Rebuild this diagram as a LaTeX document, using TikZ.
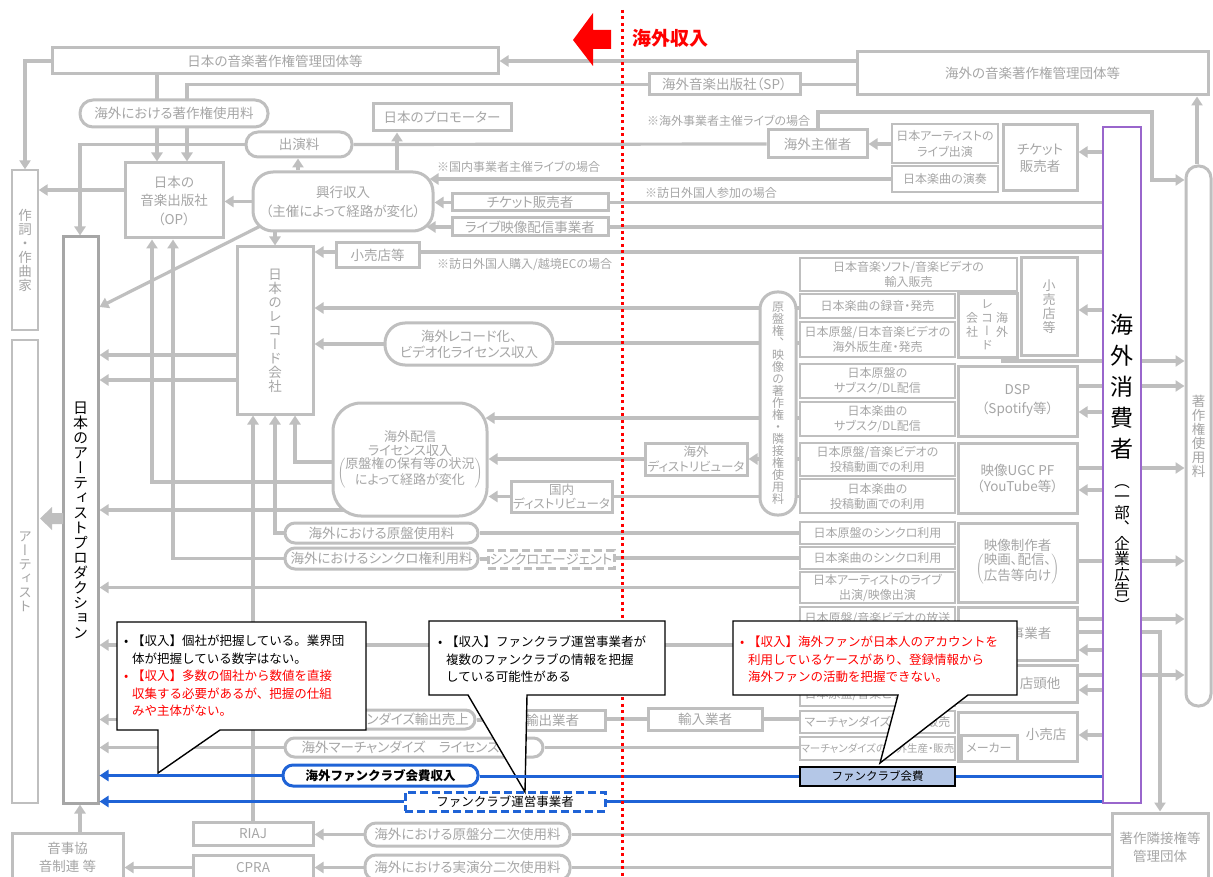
\documentclass[tikz,border=0pt]{standalone}
\usepackage{fontspec}
\setmainfont{Noto Sans CJK JP}[RawFeature=+palt]
\newfontfamily\fullfont{Noto Sans CJK JP}
\newfontfamily\tatefont{Noto Sans CJK JP}[RawFeature=+vert]
\usetikzlibrary{arrows.meta,backgrounds,calc}
\definecolor{LineG}{HTML}{BFBFBF}
\definecolor{TextG}{HTML}{A6A6A6}
\definecolor{ProdG}{HTML}{A6A6A6}
\definecolor{FanBlue}{HTML}{1F63D6}
\definecolor{ConsPurple}{HTML}{9966CC}
\definecolor{FeeBlue}{HTML}{B4C7E7}
\newcommand\labfont{\fontsize{13.5}{17}\selectfont}
\newcommand\smfont{\fontsize{12}{15}\selectfont}
\newcommand\notefont{\fullfont\fontsize{12.5}{17.5}\selectfont}
\newcommand\tatesize[2]{\tatefont\fontsize{#1}{#2}\selectfont\lineskiplimit=-100pt\relax}
% vertical text: one character per line
\makeatletter
\newcommand\tate[1]{\tate@a#1\@nil}
\def\tate@a#1{#1\tate@b}
\def\tate@b#1{\ifx\@nil#1\else\\#1\expandafter\tate@b\fi}
\makeatother
\tikzset{
  spans/.style n args={4}{at={($(#1,#2)!0.5!(#3,#4)$)}, minimum width={#3pt-#1pt}, minimum height={#4pt-#2pt}},
  gbox/.style={draw=LineG, line width=3pt, fill=white, text=TextG, inner sep=0pt, align=center, font=\labfont},
  tbox/.style={gbox, line width=1.3pt, font=\smfont},
  pill/.style={gbox, rounded corners=#1},
  tlab/.style={inner sep=0pt, align=center},
  lbl/.style={text=TextG, font=\smfont, inner sep=0pt, anchor=west},
  gline/.style={draw=LineG, line width=3.2pt},
  garrow/.style={gline, -{Triangle[length=9pt,width=11pt]}},
  bline/.style={draw=FanBlue, line width=3pt},
  barrow/.style={bline, -{Triangle[length=9pt,width=11pt]}},
  callout/.style={draw=black, line width=1.4pt, fill=white},
  note/.style={font=\notefont, inner sep=0pt, anchor=north west}
}
\begin{document}
\begin{tikzpicture}[x=1pt,y=-1pt]
\useasboundingbox (0,0) rectangle (1213,877);

% left column
\node[tbox, spans={12}{170}{38}{330}, font=\tatesize{13.5}{14}] (lyricist) {\tate{作詞・作曲家}};
\node[tbox, spans={12}{340}{38}{803}, font=\tatesize{13.5}{14}] (artist) {\tate{アーティスト}};
\node[gbox, draw=ProdG, text=black, spans={63}{237}{98}{803}, font=\tatesize{15}{15}] (prod) {\tate{日本のアーティストプロダクション}};

% copyright bodies and live
\node[gbox, spans={52}{48}{498}{74}] (jasrac) {日本の音楽著作権管理団体等};
\node[gbox, spans={857}{52}{1208}{95}] (ovcmo) {海外の音楽著作権管理団体等};
\node[gbox, spans={649}{74}{800}{95}] (sp) {海外音楽出版社（SP）};
\node[pill=13pt, spans={80}{100}{268}{127}] (abroadcopy) {海外における著作権使用料};
\node[gbox, spans={373}{104}{511}{131}] (promoter) {日本のプロモーター};
\node[pill=12pt, spans={246}{132}{352}{157}] (fee) {出演料};
\node[gbox, spans={125}{163}{223}{238}, font=\fontsize{13.5}{18.5}\selectfont] (op) {日本の\\音楽出版社\\（OP）};
\node[pill=20pt, spans={253}{172}{433}{231}, font=\fontsize{13.5}{19}\selectfont] (kogyo) {興行収入\\（主催によって経路が変化）};
\node[gbox, spans={768}{130}{867}{158}] (ovpromo) {海外主催者};
\node[tbox, spans={892}{124}{998}{163}, font=\fontsize{12}{16}\selectfont] (jlive) {日本アーティストの\\ライブ出演};
\node[tbox, spans={892}{166}{998}{192}] (jperf) {日本楽曲の演奏};
\node[gbox, spans={1003}{125}{1077}{191}] (ovticket) {チケット\\販売者};
\node[pill=12pt, spans={1186}{166}{1211}{706}, font=\tatesize{13.5}{14}] (rightsfee) {\tate{著作権使用料}};
\node[gbox, spans={452}{194}{608}{211}] (jpticket) {チケット販売者};
\node[gbox, spans={452}{218}{608}{236}] (livestream) {ライブ映像配信事業者};
\node[gbox, spans={336}{243}{419}{268}] (jpretail) {小売店等};
\node[lbl] (note_dom) at (437,167) {※国内事業者主催ライブの場合};
\node[lbl] (note_ovl) at (647,121) {※海外事業者主催ライブの場合};
\node[lbl] (note_vis) at (645,193) {※訪日外国人参加の場合};
\node[lbl] (note_ec) at (437,265) {※訪日外国人購入/越境ECの場合};

% records and licensing
\node[gbox, spans={237}{247}{313}{414}, font=\tatesize{13.5}{14}] (record) {\tate{日本のレコード会社}};
\node[pill=17pt, spans={760}{292}{796}{515}, font=\tatesize{12}{12}] (masterfee) {\tate{原盤権、映像の著作権・隣接権使用料}};
\node[pill=20pt, spans={385}{323}{553}{365}, font=\fontsize{13.5}{16}\selectfont] (recli) {海外レコード化、\\ビデオ化ライセンス収入};
\node[pill=28pt, spans={333}{403}{487}{516}, font=\fontsize{13}{14.5}\selectfont] (distli) {海外配信\\ライセンス収入\\\(\left(\vcenter{\hbox{\begin{tabular}{@{}c@{}}原盤権の保有等の状況\\によって経路が変化\end{tabular}}}\right)\)};
\node[gbox, spans={645}{443}{747}{475}, font=\fontsize{12.5}{14.5}\selectfont] (ovdist) {海外\\ディストリビュータ};
\node[gbox, spans={511}{481}{612}{512}, font=\fontsize{12.5}{14.5}\selectfont] (jpdist) {国内\\ディストリビュータ};
\node[pill=10pt, spans={285}{523}{478}{543}] (mastuse) {海外における原盤使用料};
\node[pill=10pt, spans={285}{548}{478}{569}] (syncuse) {海外におけるシンクロ権利用料};
\node[gbox, dash pattern=on 8pt off 4pt, spans={488}{550}{614}{568}] (syncagent) {シンクロエージェント};

% overseas uses
\node[tbox, spans={800}{258}{1017}{291}] (rimport) {日本音楽ソフト/音楽ビデオの\\輸入販売};
\node[tbox, spans={800}{294}{955}{318}] (rrec) {日本楽曲の録音・発売};
\node[tbox, spans={800}{322}{955}{357}] (rovpress) {日本原盤/日本音楽ビデオの\\海外版生産・発売};
\node[tbox, spans={800}{364}{955}{398}] (rsubm) {日本原盤の\\サブスク/DL配信};
\node[tbox, spans={800}{402}{955}{436}] (rsubs) {日本楽曲の\\サブスク/DL配信};
\node[tbox, spans={800}{443}{955}{476}] (rugcm) {日本原盤/音楽ビデオの\\投稿動画での利用};
\node[tbox, spans={800}{479}{955}{513}] (rugcs) {日本楽曲の\\投稿動画での利用};
\node[tbox, spans={800}{522}{955}{544}] (rsyncm) {日本原盤のシンクロ利用};
\node[tbox, spans={800}{547}{955}{569}] (rsyncs) {日本楽曲のシンクロ利用};
\node[tbox, spans={800}{572}{955}{603}] (rappear) {日本アーティストのライブ\\出演/映像出演};
\node[tbox, spans={800}{607}{955}{629}] (rbcast) {日本原盤/音楽ビデオの放送};
\coordinate (bcast) at (800,645);
\node[tbox, spans={800}{683}{955}{706}] (rpkg) {日本原盤/音楽ビデオの販売};
\node[tbox, spans={800}{711}{955}{733}] (rmimport) {マーチャンダイズの輸入販売};
\node[tbox, spans={800}{737}{955}{760}, font=\fontsize{10.5}{13}\selectfont] (rmprod) {マーチャンダイズの海外生産・販売};
\node[draw=black, line width=1.3pt, fill=FeeBlue, inner sep=0pt, spans={800}{767}{955}{786}, font=\fullfont\fontsize{11.5}{14}\selectfont] (fcfee) {ファンクラブ会費};

% overseas businesses
\node[gbox, spans={1021}{258}{1077}{355}, font=\tatesize{13}{14}] (ovretail) {\tate{小売店等}};
\node[gbox, spans={958}{294}{1017}{357}] (ovrec) {};
\node[tlab, text=TextG, font=\tatesize{12}{13.5}] (ovrecA) at (1002,325) {\tate{海外}};
\node[tlab, text=TextG, font=\tatesize{12}{13.5}] (ovrecB) at (987,325) {\tate{レコード}};
\node[tlab, text=TextG, font=\tatesize{12}{13.5}] (ovrecC) at (972,325) {\tate{会社}};
\node[gbox, spans={958}{366}{1077}{436}, font=\fontsize{13.5}{19}\selectfont] (dsp) {DSP\\（Spotify等）};
\node[gbox, spans={958}{443}{1077}{513}, font=\fontsize{13.5}{16}\selectfont] (ugc) {映像UGC PF\\（YouTube等）};
\node[gbox, spans={958}{523}{1077}{602}, font=\fontsize{13.5}{16}\selectfont] (video) {映像制作者\\\(\left(\vcenter{\hbox{\begin{tabular}{@{}c@{}}映画、配信、\\広告等向け\end{tabular}}}\right)\)};
\node[gbox, spans={958}{607}{1077}{660}] (bcaster) {放送事業者};
\node[gbox, spans={958}{665}{1077}{702}] (shop) {};
\node[tlab, text=TextG, font=\labfont] (shoplab) at (1040,683) {店頭他};
\node[gbox, spans={958}{712}{1077}{761}] (retail) {};
\node[tlab, text=TextG, font=\labfont] (retaillab) at (1046,734) {小売店};
\node[gbox, spans={961}{735}{1017}{761}, font=\smfont] (maker) {メーカー};
\node[draw=ConsPurple, line width=1.5pt, fill=white, inner sep=0pt, spans={1103}{127}{1141}{803}] (cons) {};
\node[tlab, font=\tatesize{23}{31}] (consA) at (1122,387) {\tate{海外消費者}};
\node[tlab, font=\tatesize{15.5}{15.5}] (consB) at (1122,548) {\tate{（一部、企業広告）}};

% merchandise, fan club, secondary use
\node[pill=9.5pt, spans={285}{710}{475}{729}] (merchexp) {海外マーチャンダイズ輸出売上};
\node[gbox, spans={499}{710}{605}{730}] (exporter) {輸出業者};
\node[gbox, spans={648}{708}{762}{730}] (importer) {輸入業者};
\node[pill=9.5pt, spans={285}{738}{543}{757}] (merchlic) {海外マーチャンダイズ　ライセンス収入};
\node[pill=10pt, draw=FanBlue, text=black, font=\fullfont\bfseries\fontsize{12.5}{15}\selectfont, spans={283}{765}{478}{786}] (fcincome) {海外ファンクラブ会費収入};
\node[gbox, draw=FanBlue, dash pattern=on 8pt off 4pt, text=black, font=\fullfont\fontsize{12.5}{15}\selectfont, spans={405}{792}{605}{811}] (fcop) {ファンクラブ運営事業者};
\node[gbox, spans={193}{822}{313}{845}] (riaj) {RIAJ};
\node[gbox, spans={193}{855}{313}{880}] (cpra) {CPRA};
\node[pill=11pt, spans={365}{823}{570}{846}] (master2) {海外における原盤分二次使用料};
\node[pill=11pt, spans={365}{855}{570}{880}] (perf2) {海外における実演分二次使用料};
\node[gbox, spans={12}{833}{123}{882}, font=\fontsize{13.5}{18}\selectfont] (ojk) {音事協\\音制連 等};
\node[gbox, spans={1112}{813}{1208}{882}, font=\fontsize{13.5}{18}\selectfont] (neighbor) {著作隣接権等\\管理団体};

\begin{scope}[on background layer]
% top
\draw[garrow] (jasrac.west) -| (lyricist.north);
\draw[garrow] (ovcmo.west |- jasrac.east) -- (jasrac.east);
\draw[gline] (ovcmo.west |- sp.east) -- (sp.east);
\draw[garrow] (sp.west) -| (op.north -| 187,0);
\draw[garrow] (jasrac.south -| 157,0) -- (op.north -| 157,0);
\draw[garrow] (rightsfee.north -| 1197,0) -- (ovcmo.south -| 1197,0);
% live
\draw[gline] (ovpromo.west) -- (fee.east);
\draw[garrow] (fee.west) -| (prod.north -| 80,0);
\draw[garrow] (kogyo.north -| 298,0) -- (fee.south -| 298,0);
\draw[garrow] (kogyo.north -| 397,0) -- (promoter.south -| 397,0);
\draw[garrow] (kogyo.west) -- (op.east |- kogyo.west);
\draw[garrow] (op.west |- 0,190) -- (lyricist.east |- 0,190);
\draw[garrow] (jlive.west |- ovpromo.east) -- (ovpromo.east);
\draw[garrow] (ovpromo.north -| 818,0) |- (1152,112) |- (rightsfee.west |- 0,180);
\draw[garrow] (cons.west |- 0,152) -- (ovticket.east |- 0,152);
\draw[garrow, shorten >=-5pt] (jperf.west) -- (jperf.west -| kogyo.east);
\draw[gline] (cons.west |- jpticket.east) -- (jpticket.east);
\draw[garrow] (jpticket.west) -- (jpticket.west -| kogyo.east);
\draw[gline] (cons.west |- livestream.east) -- (livestream.east);
\draw[garrow, shorten >=-8pt] (livestream.west) -- (livestream.west -| kogyo.east);
% records
\draw[gline] (cons.west |- 0,252) -- (jpretail.east |- 0,252);
\draw[garrow] (jpretail.west |- 0,252) -- (record.east |- 0,252);
\draw[garrow] (kogyo.south -| 275,0) -- (record.north -| 275,0);
\draw[garrow] ($(kogyo.south west)+(10,-7)$) -- (prod.east |- 0,307);
\draw[garrow] (record.west |- 0,355) -- (prod.east |- 0,355);
\draw[garrow] (record.west |- 0,380) -- (prod.east |- 0,380);
\draw[garrow] (rrec.west |- 0,308) -- (record.east |- 0,308);
\draw[gline] (rovpress.west |- 0,343) -- (recli.east |- 0,343);
\draw[garrow] (recli.west) -- (record.east |- recli.west);
\draw[garrow, shorten >=-3pt] (rsubs.west |- 0,418) -- (distli.east |- 0,418);
\draw[garrow] (rugcm.west |- ovdist.east) -- (ovdist.east);
\draw[garrow] (ovdist.west) -- (distli.east |- ovdist.west);
\draw[gline] (rugcs.west |- jpdist.east) -- (jpdist.east);
\draw[garrow] (jpdist.west) -- (distli.east |- jpdist.west);
\draw[garrow] (distli.west |- 0,462) -| (record.south -| 295,0);
\draw[garrow] (distli.west |- 0,482) -| (op.south -| 152,0);
\draw[garrow] (distli.center |- 0,510) -- (prod.east |- 0,510);
\draw[gline] (rsyncm.west) -- (mastuse.east |- rsyncm.west);
\draw[garrow] (mastuse.west) -| (record.south -| 275,0);
\draw[gline] (rsyncs.west) -- (syncagent.east |- rsyncs.west);
\draw[gline] (syncagent.west) -- (syncuse.east |- syncagent.west);
\draw[garrow] (syncuse.west) -| (op.south -| 173,0);
\draw[garrow] (rappear.west) -- (prod.east |- rappear.west);
\draw[garrow] (bcast) -- (prod.east |- bcast);
% merchandise and secondary use
\draw[gline] (rmimport.west |- importer.east) -- (importer.east);
\draw[gline] (importer.west) -- (exporter.east |- importer.west);
\draw[gline] (exporter.west) -- (merchexp.east |- exporter.west);
\draw[garrow] (merchexp.west) -- (prod.east |- merchexp.west);
\draw[gline] (rmprod.west |- merchlic.east) -- (merchlic.east);
\draw[garrow] (merchlic.west) -- (prod.east |- merchlic.west);
\draw[garrow] (riaj.north -| 253,0) -- (record.south -| 253,0);
\draw[gline] (neighbor.west |- master2.east) -- (master2.east);
\draw[garrow] (master2.west) -- (riaj.east |- master2.west);
\draw[gline] (neighbor.west |- perf2.east) -- (perf2.east);
\draw[garrow] (perf2.west) -- (cpra.east |- perf2.west);
\draw[garrow] (cpra.west) -- (ojk.east |- cpra.west);
\draw[garrow] (ojk.north -| 80,0) -- (prod.south -| 80,0);
% consumer side
\draw[garrow] (cons.west |- 0,310) -- (ovretail.east |- 0,310);
\draw[garrow] (cons.west |- 0,412) -- (dsp.east |- 0,412);
\draw[garrow] (cons.west |- 0,490) -- (ugc.east |- 0,490);
\draw[garrow] (cons.west |- 0,650) -- (bcaster.east |- 0,650);
\draw[garrow] (cons.west |- 0,690) -- (shop.east |- 0,690);
\draw[garrow] (cons.west |- 0,735) -- (retail.east |- 0,735);
\draw[garrow] (ovrec.south -| 1003,0) |- (rightsfee.west |- 0,361);
\draw[garrow] (dsp.east |- 0,386) -- (rightsfee.west |- 0,386);
\draw[garrow] (ugc.east |- 0,468) -- (rightsfee.west |- 0,468);
\draw[garrow] (video.east |- 0,561) -- (rightsfee.west |- 0,561);
\draw[garrow] (bcaster.east |- 0,619) -- (rightsfee.west |- 0,619);
\draw[garrow] (shop.east |- 0,675) -- (rightsfee.west |- 0,675);
\draw[garrow] (bcaster.east |- 0,632) -| (neighbor.north -| 1160,0);
\end{scope}

% block arrows
\fill[LineG] (40,518.5) -- (52,507) -- (52,513) -- (63,513) -- (63,524) -- (52,524) -- (52,530) -- cycle;
\fill[red] (573,40) -- (593,13) -- (593,30) -- (611,30) -- (611,49) -- (593,49) -- (593,66) -- cycle;
\node[text=red, inner sep=0pt, font=\fullfont\bfseries\fontsize{19}{21}\selectfont] (ovincome) at (670,38) {海外収入};

% callouts
\draw[callout] (117,622) -- (366,622) -- (366,730) -- (220,730) -- (158,773) -- (158,730) -- (117,730) -- cycle;
\node[note] (note1) at (124,633.5) {\begin{tabular}{@{}l@{}l@{}}
\makebox[8pt][l]{•} & 【収入】個社が把握している。業界団\\
 & 体が把握している数字はない。\\
\color{red}\makebox[8pt][l]{•} & \color{red}【収入】多数の個社から数値を直接\\
 & \color{red}収集する必要があるが、把握の仕組\\
 & \color{red}みや主体がない。
\end{tabular}};
\draw[callout] (429,621) -- (665,621) -- (665,695) -- (527,695) -- (525,792) -- (468,695) -- (429,695) -- cycle;
\node[note] (note2) at (438,634.5) {\begin{tabular}{@{}l@{}l@{}}
\makebox[8pt][l]{•} & 【収入】ファンクラブ運営事業者が\\
 & 複数のファンクラブの情報を把握\\
 & している可能性がある
\end{tabular}};
\draw[callout] (733,621) -- (1017,621) -- (1017,695) -- (968,695) -- (880,763) -- (898,695) -- (733,695) -- cycle;
\node[note, text=red] (note3) at (740,634.5) {\begin{tabular}{@{}l@{}l@{}}
\makebox[8pt][l]{•} & 【収入】海外ファンが日本人のアカウントを\\
 & 利用しているケースがあり、登録情報から\\
 & 海外ファンの活動を把握できない。
\end{tabular}};

% fan club flows
\draw[barrow] (fcincome.west) -- (prod.east |- fcincome.west);
\draw[bline] (fcfee.west) -- (fcincome.east |- fcfee.west);
\draw[bline] (cons.west |- fcfee.east) -- (fcfee.east);
\draw[barrow] (fcop.west) -- (prod.east |- fcop.west);
\draw[bline] (cons.west |- fcop.east) -- (fcop.east);

% domestic / overseas divide
\draw[red, line width=3pt, dash pattern=on 3pt off 3.5pt] (622,10) -- (622,620);
\draw[red, line width=3pt, dash pattern=on 3pt off 3.5pt] (622,697) -- (622,877);
\end{tikzpicture}
\end{document}
